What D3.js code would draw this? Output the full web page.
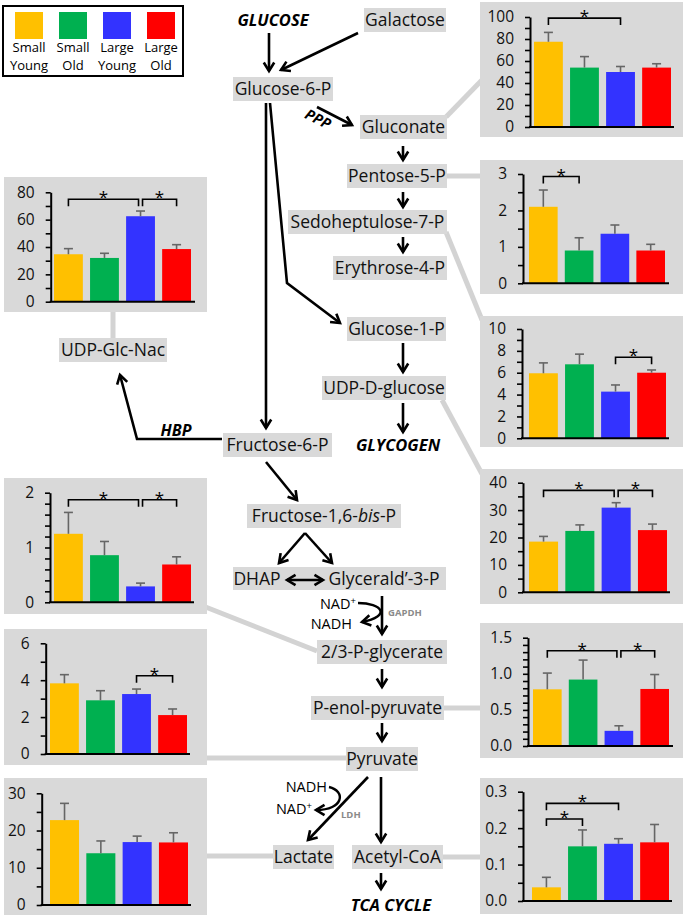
<!DOCTYPE html>
<html><head><meta charset="utf-8">
<script src="https://cdn.jsdelivr.net/npm/d3@7"></script>
<style>
body{margin:0;background:#fff}
text{font-family:'Open Sans',sans-serif}
</style>
</head><body>
<svg id="chart" width="685" height="918"></svg>
<script>
// ---------------- DATA ----------------
const groups = ["Small Young","Small Old","Large Young","Large Old"];
const legendLine1 = ["Small","Small","Large","Large"];
const legendLine2 = ["Young","Old","Young","Old"];
const groupColors = ["#FFC000","#00B050","#3333FF","#FF0000"];

const gluconateMean = [77.5, 54, 50, 54];
const gluconateSem  = [8.5, 10, 5, 3.5];
const gluconateTicks = ["0","20","40","60","80","100"];
const gluconateSig = [[0,2,99]];

const pentoseMean = [2.1, 0.9, 1.36, 0.9];
const pentoseSem  = [0.46, 0.35, 0.24, 0.17];
const pentoseTicks = ["0","1","2","3"];
const pentoseSig = [[0,1,2.93]];

const sedoMean = [5.95, 6.77, 4.27, 6.0];
const sedoSem  = [0.95, 0.93, 0.61, 0.25];
const sedoTicks = ["0","2","4","6","8","10"];
const sedoSig = [[2,3,7.41]];

const udpGlcMean = [18.5, 22.4, 30.9, 22.7];
const udpGlcSem  = [1.9, 2.2, 1.8, 2.2];
const udpGlcTicks = ["0","10","20","30","40"];
const udpGlcSig = [[0,2,37.2],[2,3,37.2]];

const pepMean = [0.785, 0.92, 0.21, 0.79];
const pepSem  = [0.225, 0.27, 0.07, 0.2];
const pepTicks = ["0.0","0.5","1.0","1.5"];
const pepSig = [[0,2,1.32],[2,3,1.32]];

const acCoAMean = [0.0375, 0.15, 0.157, 0.161];
const acCoASem  = [0.0275, 0.045, 0.014, 0.049];
const acCoATicks = ["0.0","0.1","0.2","0.3"];
const acCoASig = [[0,2,0.268],[0,1,0.225]];

const udpNacMean = [34.7, 32, 62.5, 38.5];
const udpNacSem  = [4.1, 3.4, 3.8, 3.2];
const udpNacTicks = ["0","20","40","60","80"];
const udpNacSig = [[0,2,74.9],[2,3,74.9]];

const pgMean = [1.25, 0.86, 0.29, 0.69];
const pgSem  = [0.39, 0.25, 0.06, 0.14];
const pgTicks = ["0","1","2"];
const pgSig = [[0,2,1.87],[2,3,1.87]];

const pyrMean = [3.83, 2.91, 3.25, 2.11];
const pyrSem  = [0.47, 0.52, 0.27, 0.33];
const pyrTicks = ["0","2","4","6"];
const pyrSig = [[2,3,4.24]];

const lacMean = [22.8, 13.9, 16.9, 16.8];
const lacSem  = [4.5, 3.3, 1.6, 2.6];
const lacTicks = ["0","10","20","30"];
const lacSig = [];

const nodeNames = ["Galactose","Glucose-6-P","Gluconate","Pentose-5-P","Sedoheptulose-7-P",
  "Erythrose-4-P","Glucose-1-P","UDP-D-glucose","Fructose-6-P","Fructose-1,6-bis-P",
  "2/3-P-glycerate","P-enol-pyruvate","Pyruvate","Lactate","Acetyl-CoA","UDP-Glc-Nac"];
const pathwayWords = ["GLUCOSE","GLYCOGEN","TCA CYCLE","HBP","PPP"];

// ---------------- LAYOUT ----------------
const panels = [
 {mean:gluconateMean, sem:gluconateSem, ticks:gluconateTicks, minor:10, sig:gluconateSig,
  box:[480,2,683,137], axisX:530, axisEnd:674, y0:127, yTop:17, bars:[534,671]},
 {mean:pentoseMean, sem:pentoseSem, ticks:pentoseTicks, minor:0.5, sig:pentoseSig,
  box:[480,160,683,294], axisX:523, axisEnd:669, y0:283.3, yTop:174, bars:[529,665]},
 {mean:sedoMean, sem:sedoSem, ticks:sedoTicks, minor:1, sig:sedoSig,
  box:[480,316,683,447], axisX:522, axisEnd:669, y0:438.3, yTop:329, bars:[529,666]},
 {mean:udpGlcMean, sem:udpGlcSem, ticks:udpGlcTicks, minor:5, sig:udpGlcSig,
  box:[480,469,683,604], axisX:523, axisEnd:670, y0:592.3, yTop:482.7, bars:[529,667]},
 {mean:pepMean, sem:pepSem, ticks:pepTicks, minor:0.1, sig:pepSig,
  box:[480,623,683,758], axisX:528, axisEnd:673, y0:746, yTop:637.7, bars:[533,669]},
 {mean:acCoAMean, sem:acCoASem, ticks:acCoATicks, minor:0.05, sig:acCoASig,
  box:[480,778,683,914], axisX:523, axisEnd:672, y0:901, yTop:791.7, bars:[532,669]},
 {mean:udpNacMean, sem:udpNacSem, ticks:udpNacTicks, minor:10, sig:udpNacSig,
  box:[4,177,207,312], axisX:50.7, axisEnd:195, y0:301.7, yTop:192.3, bars:[54,191]},
 {mean:pgMean, sem:pgSem, ticks:pgTicks, minor:0.2, sig:pgSig,
  box:[4,478,207,614], axisX:50, axisEnd:194, y0:602.3, yTop:492.7, bars:[54,191]},
 {mean:pyrMean, sem:pyrSem, ticks:pyrTicks, minor:1, sig:pyrSig,
  box:[4,629,207,765], axisX:45.7, axisEnd:190, y0:754, yTop:643.3, bars:[50,187]},
 {mean:lacMean, sem:lacSem, ticks:lacTicks, minor:5, sig:lacSig,
  box:[4,778,207,915], axisX:41.7, axisEnd:191, y0:905, yTop:793.3, bars:[50,188]}
];

// node boxes: [x1, x2, yCenter]
const nodeBoxes = [
 [364,446,20],[233,333,89],[360,447,127],[347,447,176],[288,447,222],
 [333,447,268],[347,446,329],[322,446,388],[223,332,445],[247,401,516],
 [317,447,652],[311,444,708],[346,418,759],[273,334,857],[352,443,857],[59,167,350]
];

const grey = "#d9d9d9";
const connColor = "#d3d3d3";
const svg = d3.select("#chart");
const gConn = svg.append("g"), gPanels = svg.append("g"), gNodes = svg.append("g"), gArrows = svg.append("g");

// ---------------- CONNECTORS ----------------
const connectors = [
 [[446,117],[482,80]],[[446,176],[480,176]],[[446,232],[482,320]],[[442,400],[482,474]],
 [[444,708],[480,708]],[[443,857],[480,857]],[[203,606],[317,651]],[[207,758],[346,758]],
 [[207,856],[273,856]],[[113,312],[113,338]]
];
connectors.forEach(c => gConn.append("path").attr("d", d3.line()(c))
  .attr("stroke", connColor).attr("stroke-width", 5).attr("fill","none"));

// ---------------- PANELS ----------------
panels.forEach(p => {
  const g = gPanels.append("g");
  const [x1,y1,x2,y2] = p.box;
  g.append("rect").attr("x",x1).attr("y",y1).attr("width",x2-x1).attr("height",y2-y1).attr("fill",grey);
  const tickVals = p.ticks.map(Number);
  const maxV = d3.max(tickVals);
  const y = d3.scaleLinear().domain([0,maxV]).range([p.y0,p.yTop]);
  const x = d3.scaleBand().domain(groups).range(p.bars).paddingInner(0.2).paddingOuter(0);
  g.selectAll("rect.bar").data(p.mean).join("rect").attr("class","bar")
    .attr("x",(d,i)=>x(groups[i])).attr("width",x.bandwidth())
    .attr("y",d=>y(d)).attr("height",d=>p.y0-y(d)).attr("fill",(d,i)=>groupColors[i]);
  p.mean.forEach((m,i)=>{
    const cx = x(groups[i]) + x.bandwidth()/2;
    const top = y(m + p.sem[i]);
    g.append("line").attr("x1",cx).attr("x2",cx).attr("y1",y(m)).attr("y2",top)
      .attr("stroke","#666").attr("stroke-width",1.6);
    g.append("line").attr("x1",cx-4.5).attr("x2",cx+4.5).attr("y1",top).attr("y2",top)
      .attr("stroke","#666").attr("stroke-width",1.6);
  });
  const n = Math.round(maxV/p.minor);
  const allTicks = d3.range(0,n+1).map(k => +(k*p.minor).toFixed(4));
  const labelOf = v => { const idx = tickVals.findIndex(t => Math.abs(t-v) < 1e-6); return idx>=0 ? p.ticks[idx] : ""; };
  const axis = d3.axisLeft(y).tickValues(allTicks).tickSize(5).tickSizeOuter(0).tickPadding(11).tickFormat(labelOf);
  const ag = g.append("g").attr("transform",`translate(${p.axisX},0)`).call(axis);
  ag.select(".domain").attr("stroke","#000").attr("stroke-width",2);
  ag.selectAll(".tick line").attr("stroke","#000").attr("stroke-width",1.6);
  ag.selectAll(".tick text").attr("font-size",15.5).attr("fill","#111").attr("font-family","'Open Sans',sans-serif");
  g.append("line").attr("x1",p.axisX-1).attr("x2",p.axisEnd).attr("y1",p.y0).attr("y2",p.y0)
    .attr("stroke","#000").attr("stroke-width",2);
  p.sig.forEach(s => {
    const [a,b,lev] = s;
    const shareLeft = p.sig.some(o => o!==s && o[1]===a && o[2]===lev);
    const shareRight = p.sig.some(o => o!==s && o[0]===b && o[2]===lev);
    const xa = x(groups[a]) + x.bandwidth()/2 + (shareLeft?2:0);
    const xb = x(groups[b]) + x.bandwidth()/2 - (shareRight?2:0);
    const yy = y(lev);
    g.append("path").attr("d",`M${xa},${yy+7}V${yy}H${xb}V${yy+7}`)
      .attr("fill","none").attr("stroke","#000").attr("stroke-width",1.6);
    g.append("text").attr("x",(xa+xb)/2).attr("y",yy+4).attr("text-anchor","middle")
      .attr("font-size",17).attr("fill","#000").text("*");
  });
});

// ---------------- LEGEND ----------------
const lg = svg.append("g");
lg.append("rect").attr("x",3).attr("y",6).attr("width",180).attr("height",70)
  .attr("fill","#fff").attr("stroke","#000").attr("stroke-width",2);
groups.forEach((gname,i)=>{
  const cx = 29 + i*44;
  lg.append("rect").attr("x",cx-14).attr("y",12).attr("width",28).attr("height",27).attr("fill",groupColors[i]);
  lg.append("text").attr("x",cx).attr("y",52).attr("text-anchor","middle").attr("font-size",13).text(legendLine1[i]);
  lg.append("text").attr("x",cx).attr("y",70).attr("text-anchor","middle").attr("font-size",13).text(legendLine2[i]);
});

// ---------------- NODES ----------------
gNodes.append("rect").attr("x",233).attr("y",567).attr("width",213).attr("height",23).attr("fill",grey);
gNodes.append("text").attr("x",257).attr("y",579).attr("dy","0.35em").attr("text-anchor","middle").attr("font-size",17.5).attr("fill","#111").text("DHAP");
gNodes.append("text").attr("x",384).attr("y",579).attr("dy","0.35em").attr("text-anchor","middle").attr("font-size",17.5).attr("fill","#111").text("Glycerald\u2019-3-P");

nodeNames.forEach((nm,i)=>{
  const [x1,x2,yc] = nodeBoxes[i];
  gNodes.append("rect").attr("x",x1).attr("y",yc-12).attr("width",x2-x1).attr("height",24).attr("fill",grey);
  const t = gNodes.append("text").attr("x",(x1+x2)/2).attr("y",yc).attr("dy","0.35em")
    .attr("text-anchor","middle").attr("font-size",17.5).attr("fill","#111");
  if (nm.includes("bis")) {
    const parts = nm.split("bis");
    t.append("tspan").text(parts[0]);
    t.append("tspan").attr("font-style","italic").text("bis");
    t.append("tspan").text(parts[1]);
  } else t.text(nm);
});

const wordPos = [[273,20,0,16.5],[398,445,0,16.5],[391,905,0,16.5],[176,430,0,16],[318,119,27,14.5]];
pathwayWords.forEach((w,i)=>{
  const [x,y,r,fs] = wordPos[i];
  gNodes.append("text").attr("transform",`translate(${x},${y}) rotate(${r})`).attr("dy","0.35em")
    .attr("text-anchor","middle").attr("font-size",fs).attr("font-weight","bold").attr("font-style","italic").text(w);
});

function cof(x,y,base,sup){
  const t = gNodes.append("text").attr("x",x).attr("y",y).attr("dy","0.35em").attr("text-anchor","end").attr("font-size",14.5);
  t.append("tspan").text(base);
  if (sup) t.append("tspan").attr("font-size",9.5).attr("dy","-0.5em").text(sup);
}
cof(356,604,"NAD","+");
cof(352,624,"NADH");
cof(327,787,"NADH");
cof(312,809,"NAD","+");
gNodes.append("text").attr("x",388).attr("y",613).attr("dy","0.35em").attr("font-size",9.5).attr("font-weight","bold").attr("fill","#8a8a8a").text("GAPDH");
gNodes.append("text").attr("x",341).attr("y",815).attr("dy","0.35em").attr("font-size",9.5).attr("font-weight","bold").attr("fill","#8a8a8a").text("LDH");

// ---------------- ARROWS ----------------
function head(g, tip, from){
  const dx = tip[0]-from[0], dy = tip[1]-from[1], L = Math.hypot(dx,dy);
  const ux = dx/L, uy = dy/L, len = 10, th = 0.55;
  const a = [tip[0] - len*(ux*Math.cos(th) - uy*Math.sin(th)), tip[1] - len*(uy*Math.cos(th) + ux*Math.sin(th))];
  const b = [tip[0] - len*(ux*Math.cos(th) + uy*Math.sin(th)), tip[1] - len*(uy*Math.cos(th) - ux*Math.sin(th))];
  g.append("path").attr("d",`M${a}L${tip}L${b}`).attr("fill","none").attr("stroke","#000")
    .attr("stroke-width",2.6).attr("stroke-linejoin","miter");
}
function arrow(pts, both){
  gArrows.append("path").attr("d",d3.line()(pts)).attr("fill","none").attr("stroke","#000").attr("stroke-width",2.6);
  head(gArrows, pts[pts.length-1], pts[pts.length-2]);
  if (both) head(gArrows, pts[0], pts[1]);
}
const arrows = [
 [[269,33],[269,71]], [[358,33],[281,70]], [[317,107],[352,125]],
 [[403,146],[403,160]], [[403,192],[403,207]], [[403,237],[403,252]],
 [[270,103],[287,283],[340,323]], [[266,103],[266,428]],
 [[403,343],[403,372]], [[403,403],[403,432]],
 [[266,462],[297,500]], [[305,533],[279,563]], [[305,533],[332,563]],
 [[382,596],[382,634]], [[382,669],[382,687]], [[382,723],[382,741]],
 [[368,777],[308,840]], [[381,777],[381,842]], [[381,873],[381,889]],
 [[222,439],[137,439],[120,375]]
];
arrows.forEach(a => arrow(a,false));
arrow([[287,580],[323,580]], true);

function curve(p0,c1,c2,p1){
  gArrows.append("path").attr("d",`M${p0}C${c1} ${c2} ${p1}`).attr("fill","none").attr("stroke","#000").attr("stroke-width",2.4);
  head(gArrows,p1,c2);
}
curve([358,603],[382,603],[392,616],[362,622]);
curve([329,787],[346,791],[344,810],[316,810]);
</script>
</body></html>
